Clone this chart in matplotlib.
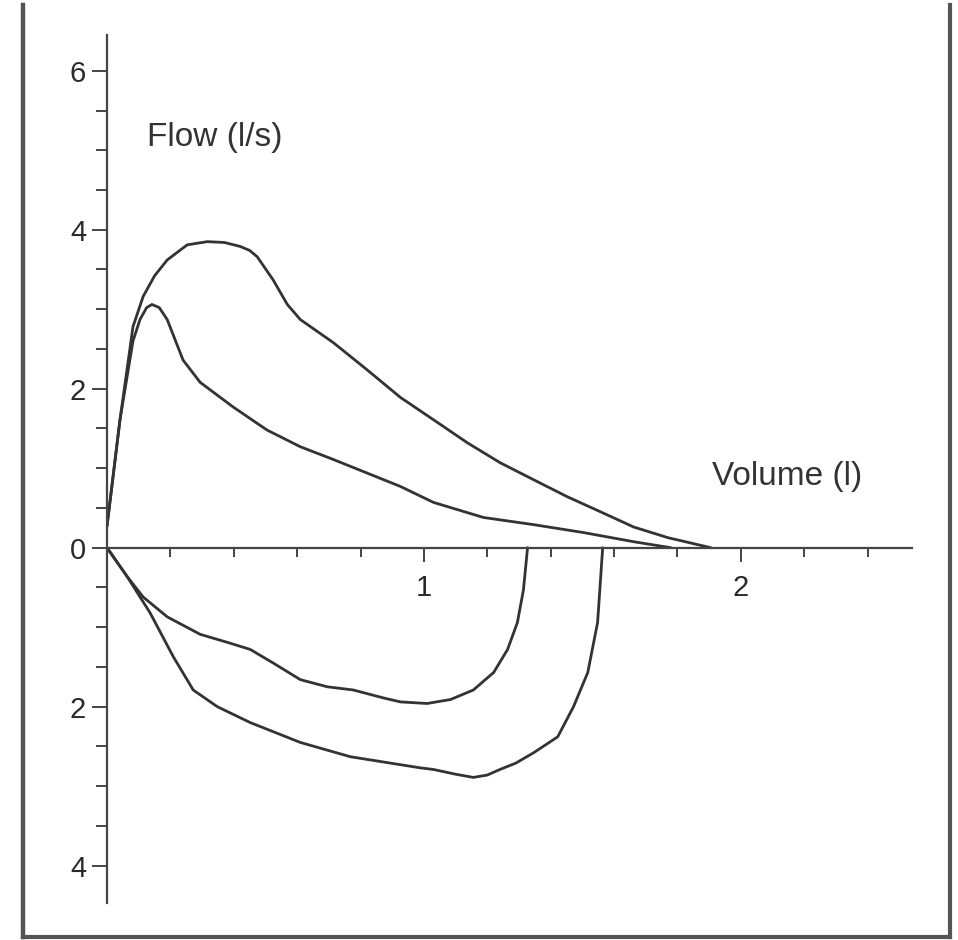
import matplotlib
matplotlib.use("Agg")
import matplotlib.pyplot as plt
from matplotlib.lines import Line2D
from matplotlib.ticker import MultipleLocator, FixedLocator, FuncFormatter

# ---- data ----
exp_outer_vol = [0.0, 0.041, 0.082, 0.114, 0.15, 0.19, 0.253, 0.316, 0.37, 0.42, 0.45, 0.474,
                 0.524, 0.569, 0.61, 0.714, 0.82, 0.926, 1.03, 1.137, 1.24, 1.346, 1.453,
                 1.558, 1.662, 1.77, 1.905]
exp_outer_flow = [0.27, 1.61, 2.78, 3.16, 3.42, 3.62, 3.81, 3.85, 3.84, 3.79, 3.74, 3.66,
                  3.37, 3.06, 2.87, 2.58, 2.24, 1.89, 1.61, 1.32, 1.07, 0.855, 0.64,
                  0.45, 0.26, 0.126, 0.0]

exp_inner_vol = [0.0, 0.041, 0.082, 0.104, 0.125, 0.142, 0.165, 0.19, 0.24, 0.294, 0.398,
                 0.505, 0.61, 0.714, 0.82, 0.926, 1.03, 1.188, 1.346, 1.504, 1.662, 1.779]
exp_inner_flow = [0.27, 1.61, 2.6, 2.87, 3.02, 3.06, 3.02, 2.87, 2.36, 2.08, 1.77,
                  1.48, 1.27, 1.11, 0.94, 0.77, 0.57, 0.38, 0.29, 0.19, 0.075, 0.0]

insp_small_vol = [0.0, 0.063, 0.114, 0.19, 0.294, 0.379, 0.452, 0.524, 0.61, 0.695, 0.777,
                  0.872, 0.926, 1.01, 1.084, 1.156, 1.22, 1.264, 1.295, 1.314, 1.327]
insp_small_flow = [0.0, -0.36, -0.62, -0.87, -1.09, -1.19, -1.28, -1.45, -1.66, -1.75, -1.79,
                   -1.89, -1.94, -1.96, -1.91, -1.79, -1.57, -1.28, -0.94, -0.53, 0.0]

insp_large_vol = [0.0, 0.063, 0.136, 0.209, 0.272, 0.348, 0.452, 0.61, 0.768, 0.989, 1.03,
                  1.10, 1.156, 1.20, 1.24, 1.29, 1.346, 1.422, 1.472, 1.517, 1.548, 1.564]
insp_large_flow = [0.0, -0.36, -0.82, -1.37, -1.79, -2.0, -2.2, -2.45, -2.63, -2.77, -2.79,
                   -2.85, -2.89, -2.86, -2.79, -2.71, -2.58, -2.38, -2.0, -1.57, -0.94, 0.0]

y_major = [-4, -2, 0, 2, 4, 6]
x_major = [1, 2]
x_label = "Volume (l)"
y_label = "Flow (l/s)"

# ---- figure ----
plt.rcParams['font.family'] = ['Liberation Sans', 'DejaVu Sans']
W, H = 958, 940
fig = plt.figure(figsize=(W / 100, H / 100), dpi=100)
ax = fig.add_axes([107 / W, (H - 903) / H, (912 - 107) / W, (903 - 35) / H])
ax.set_xlim(0, 2.54)
ax.set_ylim(-4.47, 6.45)

lc = '#333333'
for xs, ys in [(exp_outer_vol, exp_outer_flow), (exp_inner_vol, exp_inner_flow),
               (insp_small_vol, insp_small_flow), (insp_large_vol, insp_large_flow)]:
    ax.plot(xs, ys, color=lc, lw=2.0, solid_joinstyle='round', solid_capstyle='round')

for s in ['top', 'right']:
    ax.spines[s].set_visible(False)
ax.spines['bottom'].set_position(('data', 0))
ax.spines['left'].set_position(('data', 0))
for s in ['bottom', 'left']:
    ax.spines[s].set_color('#444444')
    ax.spines[s].set_linewidth(1.6)

ax.yaxis.set_major_locator(FixedLocator(y_major))
ax.yaxis.set_minor_locator(MultipleLocator(0.5))
ax.yaxis.set_major_formatter(FuncFormatter(lambda v, p: f"{abs(int(round(v)))}"))
ax.xaxis.set_major_locator(FixedLocator(x_major))
ax.xaxis.set_minor_locator(MultipleLocator(0.2))
ax.xaxis.set_major_formatter(FuncFormatter(lambda v, p: f"{int(round(v))}"))

ax.tick_params(axis='y', which='major', direction='out', length=11, width=1.4,
               color='#444444', labelsize=21, pad=4, labelcolor='#2a2a2a')
ax.tick_params(axis='y', which='minor', direction='out', length=8, width=1.4, color='#444444')
ax.tick_params(axis='x', which='major', direction='out', length=10, width=1.4,
               color='#444444', labelsize=21, pad=9, labelcolor='#2a2a2a')
ax.tick_params(axis='x', which='minor', direction='out', length=6.5, width=1.4, color='#444444')

ax.text(0.126, 5.16, y_label, fontsize=24, color='#333333', ha='left', va='center')
ax.text(1.91, 0.90, x_label, fontsize=24, color='#333333', ha='left', va='center')

# outer frame (open at top)
fc = '#555555'
fig.add_artist(Line2D([23 / W, 23 / W], [1 - 5 / H, 1 - 937 / H], color=fc, lw=3.2,
                      transform=fig.transFigure))
fig.add_artist(Line2D([950 / W, 950 / W], [1 - 5 / H, 1 - 937 / H], color=fc, lw=3.0,
                      transform=fig.transFigure))
fig.add_artist(Line2D([23 / W, 950 / W], [1 - 937 / H, 1 - 937 / H], color=fc, lw=3.0,
                      transform=fig.transFigure))

fig.savefig("out.png", dpi=100, facecolor='white')
